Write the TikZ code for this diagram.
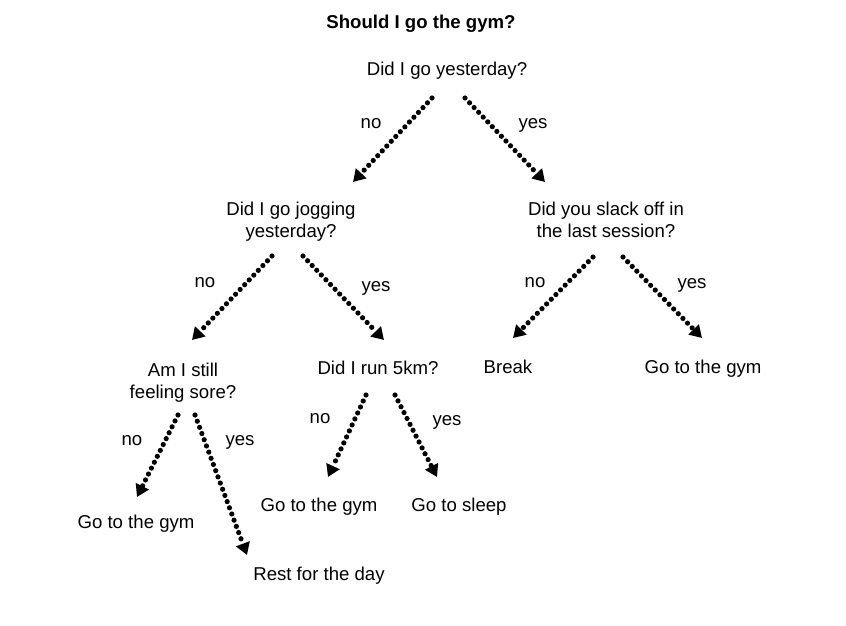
\documentclass[tikz,border=0pt]{standalone}
\usepackage{fontspec}
\setmainfont{Liberation Sans}
\usetikzlibrary{arrows.meta}

\begin{document}
\begin{tikzpicture}[x=0.5pt, y=-0.5pt,
	txt/.style={anchor=base, align=center, inner sep=0pt, font=\fontsize{9.3}{11}\selectfont},
	go/.style={line width=2.6pt, dash pattern=on 0pt off 3.3pt, line cap=round, -{Triangle[length=6pt, width=7pt]}}]
	\useasboundingbox (0,0) rectangle (846,626);

	\node[txt, font=\fontsize{9.3}{11}\selectfont\bfseries] (title) at (421,29) {Should I go the gym?};

	\node[txt] (yest) at (447,76) {Did I go yesterday?};
	\node[txt] (jog) at (291,237) {Did I go jogging\\yesterday?};
	\node[txt] (slack) at (606,237) {Did you slack off in\\the last session?};
	\node[txt] (sore) at (183,398) {Am I still\\feeling sore?};
	\node[txt] (run) at (378,374) {Did I run 5km?};
	\node[txt] (brk) at (508,373) {Break};
	\node[txt] (gymR) at (703,373) {Go to the gym};
	\node[txt] (gymL) at (136,528) {Go to the gym};
	\node[txt] (gymM) at (319,511) {Go to the gym};
	\node[txt] (sleep) at (459,511) {Go to sleep};
	\node[txt] (rest) at (319,580) {Rest for the day};

	% answers
	\foreach \n/\x/\y/\t in {noyest/371/128/no, yesyest/533/129/yes,
		nojog/205/287/no, yesjog/376/291/yes,
		noslack/535/287/no, yesslack/692/288/yes,
		nosore/132/445/no, yessore/240/445/yes,
		norun/320/423/no, yesrun/447/425/yes}
		\node[txt] (\n) at (\x,\y) {\t};

	\draw[go] ([shift={(-15,22)}]yest.base) -- ([shift={(62,-55)}]jog.base);
	\draw[go] ([shift={(18,22)}]yest.base) -- ([shift={(-61,-55)}]slack.base);
	\draw[go] ([shift={(-19,19)}]jog.base) -- ([shift={(9,-58)}]sore.base);
	\draw[go] ([shift={(12,19)}]jog.base) -- ([shift={(6,-34)}]run.base);
	\draw[go] ([shift={(-13,20)}]slack.base) -- ([shift={(5,-35)}]brk.base);
	\draw[go] ([shift={(17,20)}]slack.base) -- ([shift={(-1,-35)}]gymR.base);
	\draw[go] ([shift={(-5,17)}]sore.base) -- ([shift={(1,-31)}]gymL.base);
	\draw[go] ([shift={(12,17)}]sore.base) -- ([shift={(-72,-25)}]rest.base);
	\draw[go] ([shift={(-12,21)}]run.base) -- ([shift={(9,-34)}]gymM.base);
	\draw[go] ([shift={(17,21)}]run.base) -- ([shift={(-22,-34)}]sleep.base);
\end{tikzpicture}
\end{document}
